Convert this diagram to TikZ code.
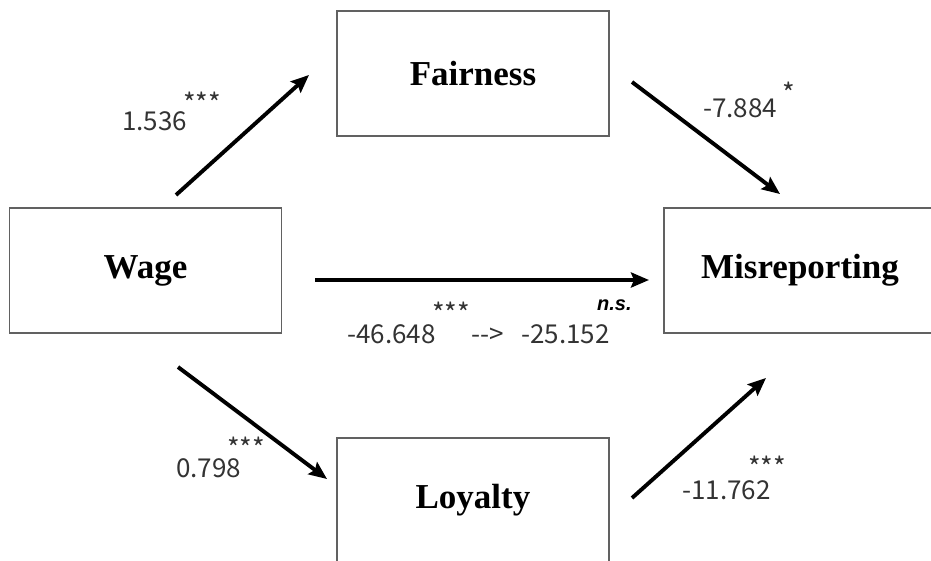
\documentclass[tikz,border=0pt]{standalone}
\usepackage{fontspec}
\setmainfont{Liberation Serif}
\newfontfamily\numfont{Noto Sans CJK JP}
\newfontfamily\nsfont{Liberation Sans}
\usetikzlibrary{arrows.meta}

% significance stars: box trimmed to the glyphs, which sit high above the baseline
\newcommand{\sigstars}[1]{\raisebox{-0.38em}[\dimexpr\height-0.38em\relax][0pt]{#1}}

\begin{document}
\begin{tikzpicture}[x=1pt,y=-1pt,
  varbox/.style={draw=black!62, line width=1.3pt, minimum width=272pt,
    minimum height=125pt, inner sep=0pt,
    font=\fontsize{35}{38}\selectfont\bfseries},
  effect/.style={line width=3.9pt, -{Stealth[length=18pt,width=15pt,inset=3pt]}},
  coef/.style={font=\numfont\fontsize{26}{29}\selectfont, text=black!80,
    inner sep=0pt, anchor=base west},
  stars/.style={font=\numfont\fontsize{27}{30}\selectfont, text=black!80,
    inner sep=0pt, anchor=north west},
]
\useasboundingbox (0,0) rectangle (931,561);

% variables
\begin{scope}
  \clip (0,0) rectangle (931,561);
  \node[varbox] (fair) at (473,73.5)  {Fairness};
  \node[varbox] (wage) at (145.5,270.5) {Wage};
  \node[varbox] (mis)  at (800,270.5) {Misreporting};
  \node[varbox] (loy)  at (473,500.5) {Loyalty};
\end{scope}

% free ends of the paths
\coordinate (wf1) at (176,195);  \coordinate (wf2) at (309,75);
\coordinate (fm1) at (632,82);   \coordinate (fm2) at (780,194);
\coordinate (wm1) at (315,280);  \coordinate (wm2) at (649,280);
\coordinate (wl1) at (178,367);  \coordinate (wl2) at (327,479);
\coordinate (lm1) at (632,498);  \coordinate (lm2) at (766,378);

\draw[effect] (wf1) -- (wf2);
\draw[effect] (fm1) -- (fm2);
\draw[effect] (wm1) -- (wm2);
\draw[effect] (wl1) -- (wl2);
\draw[effect] (lm1) -- (lm2);

% coefficients
\node[coef] (c1) at (122,131) {1.536};
\node[stars] (s1) at (183,92) {\sigstars{***}};

\node[coef] (c2) at (703,118) {-7.884};
\node[stars] (s2) at (782,82) {\sigstars{*}};

\node[coef] (c3) at (347,343) {-46.648};
\node[stars] (s3) at (432,302) {\sigstars{***}};
\node[coef] (c3b) at (471,343) {-->};
\node[coef] (c3c) at (521,343) {-25.152};
\node[inner sep=0pt, anchor=base west, font=\nsfont\fontsize{20}{22}\selectfont\bfseries\itshape] (ns) at (597,310) {n.s.};

\node[coef] (c4) at (176,477) {0.798};
\node[stars] (s4) at (227,437) {\sigstars{***}};

\node[coef] (c5) at (682,499) {-11.762};
\node[stars] (s5) at (748,456) {\sigstars{***}};
\end{tikzpicture}
\end{document}
